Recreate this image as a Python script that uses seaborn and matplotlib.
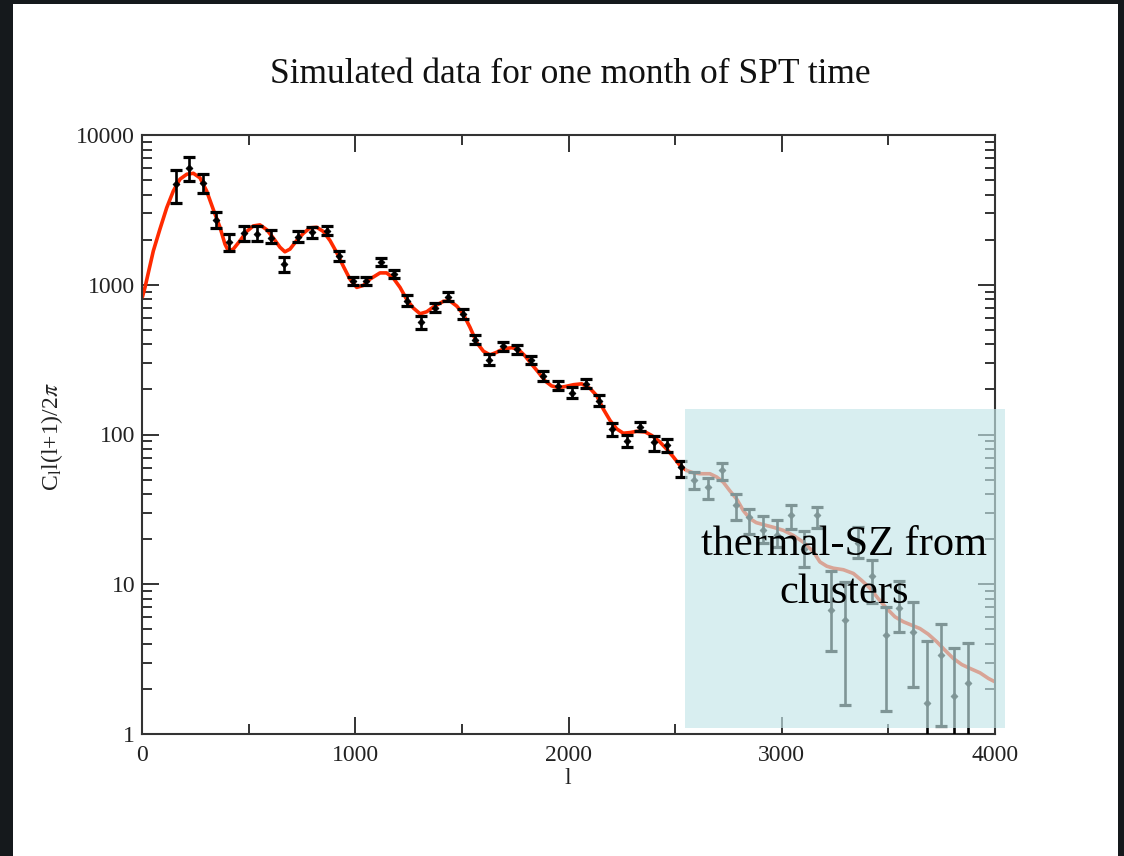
import numpy as np
import pandas as pd
import matplotlib
matplotlib.use("Agg")
import matplotlib.pyplot as plt
from matplotlib.patches import Rectangle
from matplotlib.ticker import FixedLocator, FixedFormatter, LogLocator, NullFormatter, MultipleLocator
import seaborn as sns

# ---------------- data ----------------
title = "Simulated data for one month of SPT time"
annotation_lines = ["thermal-SZ from", "clusters"]
x_ticks = [0, 1000, 2000, 3000, 4000]
y_ticks = [1, 10, 100, 1000, 10000]
y_tick_labels = ["1", "10", "100", "1000", "10000"]

# theory curve
curve_l = [2, 14, 53, 84, 116, 147, 178, 210, 241, 272, 303, 334, 366, 389, 405, 428, 460,
           491, 522, 553, 585, 616, 647, 670, 694, 725, 756, 788, 819, 850, 882, 913, 944,
           975, 1007, 1038, 1069, 1116, 1147, 1178, 1210, 1241, 1272, 1304, 1335, 1366,
           1413, 1444, 1476, 1507, 1538, 1570, 1601, 1632, 1663, 1694, 1734, 1765, 1796,
           1827, 1858, 1890, 1921, 1952, 1984, 2023, 2062, 2101, 2132, 2163, 2195, 2226,
           2257, 2288, 2320, 2359, 2390, 2429, 2460, 2491, 2523, 2554, 2585, 2616, 2663,
           2695, 2726, 2757, 2789, 2820, 2850, 2880, 2914, 2961, 3008, 3054, 3101, 3148,
           3179, 3211, 3242, 3289, 3336, 3375, 3414, 3453, 3492, 3531, 3570, 3609, 3648,
           3687, 3727, 3765, 3804, 3844, 3883, 3930, 3969, 4000]
curve_val = [830, 960, 1680, 2350, 3270, 4230, 5070, 5470, 5550, 5170, 4230, 3190, 2410, 1870,
             1680, 1730, 1970, 2270, 2470, 2510, 2330, 2050, 1780, 1660, 1730, 1970, 2200,
             2400, 2420, 2270, 1970, 1640, 1330, 1090, 960, 990, 1090, 1200, 1200, 1110, 960,
             800, 700, 640, 660, 710, 775, 780, 720, 635, 520, 410, 360, 340, 354, 373, 380,
             370, 335, 295, 261, 228, 211, 206, 209, 215, 218, 203, 182, 148, 124, 109, 102,
             103, 105, 104, 98.6, 89, 80, 71, 62, 57.5, 55.5, 54.7, 54.7, 52, 48, 42, 37, 31,
             27.5, 25.8, 25, 24, 22.9, 21.2, 19.1, 16.5, 14.1, 13.2, 12.8, 12.5, 11.8, 10.6,
             9.4, 8.0, 6.9, 6.06, 5.62, 5.33, 5.06, 4.64, 4.13, 3.63, 3.2, 2.91, 2.74, 2.56,
             2.35, 2.23]

# simulated band powers with error bars
data_l = [158, 222, 285, 347, 410, 478, 539, 606, 666, 733, 796, 866, 922, 988, 1052, 1119,
          1182, 1244, 1307, 1374, 1436, 1507, 1562, 1629, 1694, 1760, 1823, 1882, 1949, 2015,
          2080, 2144, 2205, 2273, 2335, 2402, 2460, 2526, 2590, 2656, 2721, 2784, 2848, 2911,
          2976, 3042, 3104, 3167, 3231, 3297, 3358, 3421, 3489, 3552, 3617, 3679, 3745, 3808,
          3872]
data_val = [4710, 6050, 4760, 2710, 1940, 2200, 2180, 2050, 1370, 2080, 2250, 2300, 1560, 1060,
            1055, 1420, 1180, 782, 561, 699, 832, 637, 430, 316, 388, 371, 315, 247, 212, 190,
            218, 168, 109, 91, 112, 89, 84.5, 60.5, 49.3, 44.5, 57.5, 34, 28, 22.9, 21.2, 29,
            17.3, 28.8, 6.7, 5.8, 19, 11.3, 4.6, 6.9, 4.8, 1.62, 3.36, 1.79, 2.2]
data_lo = [3540, 4930, 4100, 2390, 1680, 1970, 1970, 1890, 1210, 1920, 2050, 2150, 1450, 990,
           990, 1330, 1110, 720, 505, 655, 782, 593, 401, 292, 361, 347, 294, 228, 197, 175,
           204, 156, 97, 83, 105, 78, 76, 52, 43, 37, 50, 27, 21.8, 19, 17.7, 23.5, 13, 23.9,
           3.59, 1.55, 15, 7.5, 1.43, 4.77, 2.05, 0.3, 1.13, 0.3, 0.3]
data_hi = [5840, 7130, 5480, 3060, 2180, 2470, 2470, 2330, 1540, 2270, 2420, 2470, 1680, 1130,
           1130, 1510, 1250, 855, 620, 752, 890, 685, 463, 347, 417, 398, 334, 266, 228, 206,
           233, 183, 119, 99.6, 121, 97, 93, 67, 56, 51.5, 64.5, 40, 32, 28.7, 27, 34, 22.6,
           32.6, 12.3, 10.4, 24, 14.6, 7.1, 10.5, 7.6, 4.19, 5.46, 3.76, 4.06]

# shaded region (l range, value range)
shade_l = [2546, 4047]
shade_val = [1.1, 148]

# ---------------- style ----------------
sns.set_style("ticks")
plt.rcParams["font.family"] = ["Liberation Serif", "DejaVu Serif"]
plt.rcParams["mathtext.fontset"] = "stix"

W, H = 1124, 856
fig = plt.figure(figsize=(W / 100, H / 100), dpi=100)
fig.patch.set_facecolor("#15191c")
fig.patches.append(Rectangle((13 / W, 0), (1118 - 13) / W, 1 - 4 / H,
                             transform=fig.transFigure, facecolor="white",
                             edgecolor="none", zorder=-5))

ax = fig.add_axes([142 / W, 1 - 734 / H, (995 - 142) / W, (734 - 135) / H])
ax.set_zorder(1)
ax.set_facecolor("white")

curve_df = pd.DataFrame({"l": curve_l, "val": curve_val})
sns.lineplot(data=curve_df, x="l", y="val", ax=ax, color="#ff2a00", linewidth=2.6,
             estimator=None, zorder=2)

data_df = pd.DataFrame({"l": data_l, "val": data_val, "lo": data_lo, "hi": data_hi})
yerr = np.vstack([data_df["val"] - data_df["lo"], data_df["hi"] - data_df["val"]])
ax.errorbar(data_df["l"], data_df["val"], yerr=yerr, fmt="none", ecolor="black",
            elinewidth=1.9, capsize=4.0, capthick=2.3, zorder=3)
sns.scatterplot(data=data_df, x="l", y="val", ax=ax, marker="D", s=12, color="black",
                edgecolor="black", linewidth=0.6, zorder=3.5)

ax.set_yscale("log")
ax.set_xlim(0, 4000)
ax.set_ylim(1, 10000)

ax.xaxis.set_major_locator(FixedLocator(x_ticks))
ax.xaxis.set_minor_locator(MultipleLocator(500))
ax.yaxis.set_major_locator(FixedLocator(y_ticks))
ax.yaxis.set_major_formatter(FixedFormatter(y_tick_labels))
ax.yaxis.set_minor_locator(LogLocator(base=10, subs=np.arange(2, 10)))
ax.yaxis.set_minor_formatter(NullFormatter())

ax.tick_params(which="both", direction="in", top=True, right=True, color="#333333",
               width=1.4, labelsize=17, labelcolor="#222222")
ax.tick_params(which="major", length=12)
ax.tick_params(which="minor", length=7)
ax.tick_params(axis="x", which="major", pad=8)
ax.tick_params(axis="y", which="major", pad=5)
for sp in ax.spines.values():
    sp.set_visible(True)
    sp.set_linewidth(1.5)
    sp.set_color("#333333")
ax.set_xlabel("")
ax.set_ylabel("")

# translucent highlight box
ax.add_patch(Rectangle((shade_l[0], shade_val[0]), shade_l[1] - shade_l[0],
                       shade_val[1] - shade_val[0], facecolor=(196 / 255, 230 / 255, 232 / 255),
                       alpha=0.65, edgecolor="none", clip_on=False, zorder=4))

fig.text(570 / W, 1 - 83 / H, title, ha="center", va="baseline", fontsize=25.5, color="#111111")
fig.text(568 / W, 1 - 779 / H, "l", ha="center", va="center", fontsize=17, color="#222222")
fig.text(52 / W, 1 - 437 / H, r"C$_{\rm l}$l(l+1)/2$\pi$", rotation=90, ha="center",
         va="center", fontsize=17, color="#222222")
t1 = fig.text(844 / W, 1 - 555 / H, annotation_lines[0], ha="center", va="baseline",
              fontsize=30.5, color="black")
t2 = fig.text(844 / W, 1 - 603 / H, annotation_lines[1], ha="center", va="baseline",
              fontsize=30.5, color="black")
t1.set_zorder(10)
t2.set_zorder(10)

fig.savefig("out.png", dpi=100, facecolor=fig.get_facecolor())
